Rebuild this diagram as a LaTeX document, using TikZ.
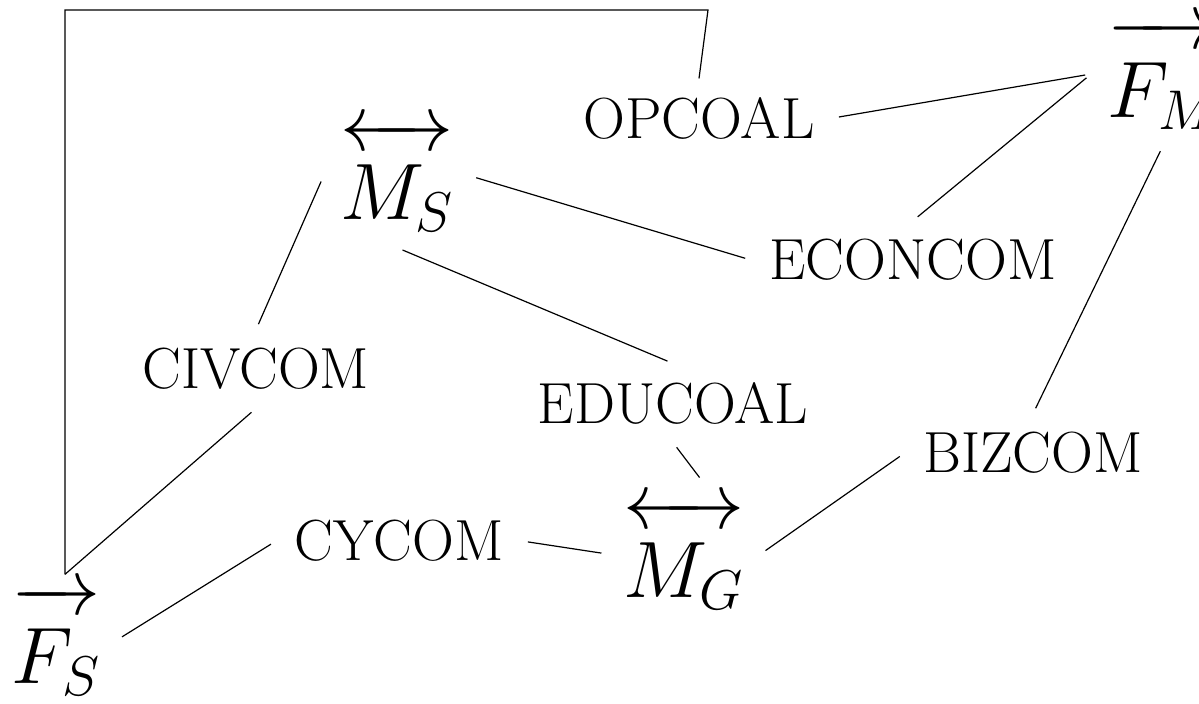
\RequirePackage{fix-cm}
\documentclass[tikz,border=0pt]{standalone}
\usepackage{amsmath}
\usepackage{tikz}
\usetikzlibrary{calc}

\newcommand{\lift}{\rule{0pt}{0.86em}}

\begin{document}
\begin{tikzpicture}[x=0.5pt, y=-0.5pt, line width=0.6pt,
    coal/.style={inner sep=9pt, font=\fontsize{29}{34}\selectfont},
    actor/.style={inner sep=8pt, font=\fontsize{40}{48}\selectfont},
    link/.style={shorten <=3pt, shorten >=3pt}]
  \useasboundingbox (0,0) rectangle (1199,703);

  % Actors (arrows over the letters)
  \node[actor] (fs) at (56,640)   {$\overrightarrow{\lift F_S}$};
  \node[actor] (fm) at (1163,74)  {$\overrightarrow{\lift F_M}$};
  \node[actor] (ms) at (397,176)  {$\overleftrightarrow{\lift M_S}$};
  \node[actor] (mg) at (684,554)  {$\overleftrightarrow{\lift M_G}$};

  % Coalitions and committees
  \node[coal] (opcoal)  at (699,118) {OPCOAL};
  \node[coal] (econcom) at (913,260) {ECONCOM};
  \node[coal] (civcom)  at (256,369) {CIVCOM};
  \node[coal] (educoal) at (673,403) {EDUCOAL};
  \node[coal] (bizcom)  at (1033,453) {BIZCOM};
  \node[coal] (cycom)   at (399,541) {CYCOM};

  % Frame from F_S round to OPCOAL
  \coordinate (corner) at ([xshift=4.5pt,yshift=-3pt]fs.north);
  \coordinate (topright) at (708,10);
  \draw (corner) |- (topright) -- (opcoal.north);

  % Links
  \draw[link] (opcoal.east) -- (fm.west);
  \draw[link] (econcom.north) -- (fm.west);
  \draw[link] (ms.east) -- (econcom.west);
  \draw[link] (ms.west) -- (civcom.north);
  \draw[link] (ms.south) -- (educoal.north);
  \draw[shorten <=3pt] (civcom.south) -- (corner);
  \draw[link] (educoal.south) -- (mg.75);
  \draw[link] (cycom.east) -- (mg.west);
  \draw[link] (fs.east) -- (cycom.west);
  \draw[link] (mg.east) -- (bizcom.west);
  \draw[link] (bizcom.north) -- (fm.south);
\end{tikzpicture}
\end{document}
